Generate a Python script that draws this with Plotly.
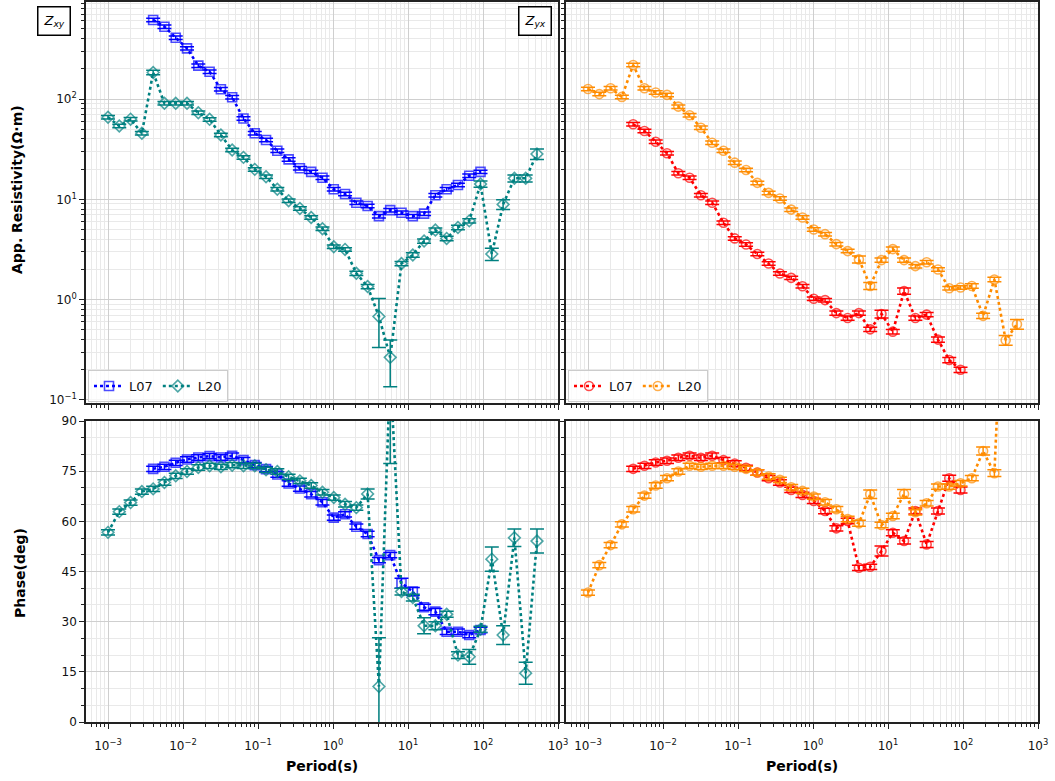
import plotly.graph_objects as go
from plotly.subplots import make_subplots

# ---------------- data ----------------
periods = [0.001, 0.001414, 0.002, 0.002828, 0.004, 0.005657, 0.008, 0.01131, 0.016,
           0.02263, 0.032, 0.04525, 0.064, 0.09051, 0.128, 0.181, 0.256, 0.362, 0.512,
           0.7241, 1.024, 1.448, 2.048, 2.896, 4.096, 5.793, 8.192, 11.59, 16.38, 23.17,
           32.77, 46.34, 65.54, 92.68, 131.1, 185.4, 262.1, 370.7, 524.3]
periods_L07 = periods[4:34]
periods_L20 = periods

# Zxy apparent resistivity (ohm.m)
rho_xy_L07 = [614, 526, 408, 320, 215, 187, 125, 104, 64, 45.5, 39, 30.5, 25, 20.4, 18.8,
              16.4, 12.6, 11.3, 9.25, 8.57, 6.8, 7.8, 7.35, 6.8, 7.2, 11, 12.6, 13.9, 17.2, 18.8]
rho_xy_L07_errpct = [4, 4, 4, 4, 4, 4, 4, 4, 4, 4, 4, 4, 4, 4, 4,
                     4, 4, 4, 4, 4, 4, 4, 4, 4, 4, 4, 4, 4, 4, 4]
rho_xy_L20 = [65.8, 53.8, 63, 45.5, 184, 90.6, 90.6, 90.6, 73, 62.7, 43.7, 31, 26.2, 19.9,
              16.8, 12.6, 9.7, 8.1, 6.6, 5.1, 3.37, 3.17, 1.83, 1.35, 0.68, 0.266, 2.29, 2.79,
              3.84, 4.94, 4.08, 5.25, 6.1, 14.2, 2.85, 8.9, 16.2, 16.2, 28.3]
rho_xy_L20_errpct = [4, 4, 4, 4, 5, 4, 4, 4, 4, 4, 4, 4, 4, 4,
                     4, 4, 4, 4, 4, 4, 4, 4, 5, 5, 51, 49, 5, 5,
                     5, 5, 5, 5, 5, 7, 14, 11, 8, 8, 12]

# Zyx apparent resistivity (ohm.m)
rho_yx_L07 = [56, 48, 37.5, 28.8, 18.2, 16.4, 11.0, 9.25, 5.84, 4.08, 3.55, 2.85, 2.29, 1.82,
              1.65, 1.36, 1.02, 0.99, 0.735, 0.656, 0.735, 0.506, 0.72, 0.48, 1.22, 0.656,
              0.71, 0.40, 0.25, 0.20]
rho_yx_L07_errpct = [4, 4, 4, 4, 4, 4, 4, 4, 4, 4, 4, 4, 4, 4,
                     4, 4, 4, 4, 5, 5, 5, 5, 9, 5, 7, 5,
                     5, 6, 6, 6]
rho_yx_L20 = [126, 112, 128, 105, 218, 128, 116, 110, 84, 69, 51.7, 36.6, 30.5, 23.2, 19.6,
              14.6, 11.6, 10.2, 7.9, 6.6, 5.0, 4.5, 3.58, 3.05, 2.52, 1.37, 2.48, 3.19, 2.48,
              2.16, 2.36, 2.0, 1.30, 1.32, 1.37, 0.69, 1.59, 0.395, 0.57]
rho_yx_L20_errpct = [4, 4, 4, 4, 4, 4, 4, 4, 4, 4, 4, 4, 4, 4, 4,
                     4, 4, 4, 4, 4, 4, 4, 4, 4, 8, 8, 5, 5, 5,
                     4, 4, 4, 4, 4, 5, 6, 5, 11, 11]

# Phases (deg)
phs_xy_L07 = [75.7, 76.3, 77.5, 78.5, 79.1, 79.5, 79.1, 79.6, 78.3, 76.8, 75.6, 74.0, 71.3,
              69.8, 68.1, 65.7, 61.1, 62.1, 58.4, 56.2, 48.4, 49.9, 41.5, 39.0, 34.3, 33.0,
              27.0, 27.0, 26.0, 27.5]
phs_xy_L07_err = [0.8, 0.8, 0.8, 0.8, 0.8, 0.8, 0.8, 0.8, 0.8, 0.8, 0.8, 0.8, 0.8,
                  0.8, 0.8, 0.8, 0.8, 0.8, 0.8, 0.8, 0.8, 0.8, 1.5, 1.2, 0.9, 0.9,
                  0.8, 0.8, 0.8, 0.8]
phs_xy_L20 = [56.7, 62.9, 65.6, 68.9, 69.7, 71.6, 73.6, 74.9, 76.1, 76.6, 76.3, 76.8, 76.6,
              76.6, 75.4, 74.9, 73.3, 72.1, 70.7, 68.7, 67.1, 65.1, 64.1, 68.2, 10.6, 105,
              39.0, 37.2, 28.8, 28.8, 32.2, 20.0, 19.5, 27.7, 48.7, 26.0, 55.1, 14.6, 54.1]
phs_xy_L20_err = [0.8, 0.8, 0.8, 0.8, 0.8, 0.8, 0.8, 0.8, 0.8, 0.8, 0.8, 0.8, 0.8,
                  0.8, 0.8, 0.8, 0.8, 0.8, 0.8, 0.8, 0.8, 0.8, 0.8, 1.5, 14.6, 27.7,
                  1.0, 1.0, 2.4, 1.2, 0.9, 1.0, 2.2, 0.9, 3.6, 2.8, 2.6, 3.3, 3.6]
phs_yx_L07 = [75.7, 76.6, 77.6, 78.1, 79.0, 79.6, 79.0, 79.6, 78.3, 77.3, 76.0, 74.6, 72.9,
              71.6, 69.4, 67.9, 66.1, 63.1, 57.9, 60.1, 46.1, 46.4, 51.1, 56.6, 54.1, 63.1,
              53.1, 63.1, 72.9, 69.4]
phs_yx_L07_err = [0.8, 0.8, 0.8, 0.8, 0.8, 0.8, 0.8, 0.8, 0.8, 0.8, 0.8, 0.8, 0.8,
                  0.8, 0.8, 0.8, 0.8, 0.8, 0.8, 0.8, 0.8, 0.8, 1.5, 0.9, 0.9, 0.9,
                  0.9, 0.9, 0.9, 0.9]
phs_yx_L20 = [38.7, 46.9, 52.9, 59.1, 63.6, 67.7, 70.7, 72.9, 74.9, 76.6, 76.3, 76.6, 76.6,
              76.3, 75.7, 74.6, 73.4, 72.4, 70.2, 69.1, 67.4, 65.7, 63.6, 60.7, 59.4, 68.1,
              58.9, 61.6, 68.2, 62.7, 65.4, 70.4, 70.4, 71.4, 72.9, 81.0, 74.4, 150, 160]
phs_yx_L20_err = [0.8, 0.8, 0.8, 0.8, 0.8, 0.8, 0.8, 0.8, 0.8, 0.8, 0.8, 0.8, 0.8,
                  0.8, 0.8, 0.8, 0.8, 0.8, 0.8, 0.8, 0.8, 0.8, 0.8, 0.8, 0.9, 1.3,
                  0.8, 0.8, 1.3, 0.8, 0.8, 0.8, 0.8, 0.8, 0.8, 1.2, 1.0, 1.0, 1.0]

x_ticks = [1e-3, 1e-2, 1e-1, 1e0, 1e1, 1e2, 1e3]
x_ticktext = ["10<sup>−3</sup>", "10<sup>−2</sup>", "10<sup>−1</sup>", "10<sup>0</sup>",
              "10<sup>1</sup>", "10<sup>2</sup>", "10<sup>3</sup>"]
rho_ticks = [1e-1, 1e0, 1e1, 1e2]
rho_ticktext = ["10<sup>−1</sup>", "10<sup>0</sup>", "10<sup>1</sup>", "10<sup>2</sup>"]
phase_ticks = [0, 15, 30, 45, 60, 75, 90]

# ---------------- styling ----------------
C_BLUE = "#0000ff"
C_TEAL = "#008080"
C_RED = "#ff0000"
C_ORANGE = "#ff8c00"
FONT = "DejaVu Sans"


def rgba(hexc, a):
    h = hexc.lstrip("#")
    return "rgba(%d,%d,%d,%.2f)" % (int(h[0:2], 16), int(h[2:4], 16), int(h[4:6], 16), a)


def minor_log(lo, hi):
    vals = []
    for e in range(lo, hi):
        for m in range(2, 10):
            vals.append(m * 10 ** e)
    return vals


fig = make_subplots(rows=2, cols=2)


def add_series(x, y, err, color, symbol, name, row, col, legend, showlegend):
    fig.add_trace(go.Scatter(
        x=x, y=y, mode="lines+markers", name=name,
        line=dict(color=color, width=2.6, dash="dot"),
        marker=dict(symbol=symbol, size=9, color=rgba(color, 0.7),
                    line=dict(width=1.6)),
        error_y=dict(type="data", array=err, color=color, thickness=1.5, width=7),
        legend=legend, showlegend=showlegend,
    ), row=row, col=col)


def pct_err(vals, pcts):
    return [v * p / 100.0 for v, p in zip(vals, pcts)]


add_series(periods_L07, rho_xy_L07, pct_err(rho_xy_L07, rho_xy_L07_errpct), C_BLUE, "square-open", "L07", 1, 1, "legend", True)
add_series(periods_L20, rho_xy_L20, pct_err(rho_xy_L20, rho_xy_L20_errpct), C_TEAL, "diamond-open", "L20", 1, 1, "legend", True)
add_series(periods_L07, rho_yx_L07, pct_err(rho_yx_L07, rho_yx_L07_errpct), C_RED, "circle-open", "L07", 1, 2, "legend2", True)
add_series(periods_L20, rho_yx_L20, pct_err(rho_yx_L20, rho_yx_L20_errpct), C_ORANGE, "circle-open", "L20", 1, 2, "legend2", True)
add_series(periods_L07, phs_xy_L07, phs_xy_L07_err, C_BLUE, "square-open", "L07", 2, 1, "legend", False)
add_series(periods_L20, phs_xy_L20, phs_xy_L20_err, C_TEAL, "diamond-open", "L20", 2, 1, "legend", False)
add_series(periods_L07, phs_yx_L07, phs_yx_L07_err, C_RED, "circle-open", "L07", 2, 2, "legend2", False)
add_series(periods_L20, phs_yx_L20, phs_yx_L20_err, C_ORANGE, "circle-open", "L20", 2, 2, "legend2", False)

W, H = 1055, 781
ML, MR, MT, MB = 86, 17, 2, 59
PW, PH = W - ML - MR, H - MT - MB


def px_x(p):
    return (p - ML) / PW


def px_y(p):
    return (H - MB - p) / PH


dom_left = [0, px_x(558)]
dom_right = [px_x(566), 1]
dom_top = [px_y(403), 1]
dom_bot = [0, px_y(421)]

GRID_MAJ = "#cfcfcf"
GRID_MIN = "#e9e9e9"
axis_common = dict(showline=True, mirror=True, linecolor="#222222", linewidth=1.5,
                   ticks="outside", ticklen=5, tickwidth=1, tickcolor="#222222",
                   showgrid=True, gridcolor=GRID_MAJ, gridwidth=1, zeroline=False,
                   automargin=False,
                   tickfont=dict(family=FONT, size=12, color="#111111"))

xlog = dict(type="log", range=[-3 - 22 / 75, 3], tickmode="array", tickvals=x_ticks,
            ticktext=x_ticktext,
            minor=dict(tickmode="array", tickvals=minor_log(-4, 3), showgrid=True,
                       gridcolor=GRID_MIN, ticks="outside", ticklen=3, tickcolor="#222222"),
            **axis_common)
ylog = dict(type="log", range=[-1.03, 2.967], tickmode="array", tickvals=rho_ticks,
            ticktext=rho_ticktext,
            minor=dict(tickmode="array", tickvals=minor_log(-2, 3), showgrid=True,
                       gridcolor=GRID_MIN, ticks="outside", ticklen=3, tickcolor="#222222"),
            **axis_common)
ylin = dict(type="linear", range=[0, 90], tickmode="array", tickvals=phase_ticks,
            minor=dict(dtick=5, showgrid=True, gridcolor=GRID_MIN, ticks="outside",
                       ticklen=3, tickcolor="#222222"),
            **axis_common)

fig.update_layout(
    xaxis=dict(domain=dom_left, showticklabels=False, **xlog),
    xaxis2=dict(domain=dom_right, showticklabels=False, **xlog),
    xaxis3=dict(domain=dom_left, ticklabelstandoff=7, **xlog),
    xaxis4=dict(domain=dom_right, ticklabelstandoff=7, **xlog),
    yaxis=dict(domain=dom_top, **ylog),
    yaxis2=dict(domain=dom_top, showticklabels=False, **ylog),
    yaxis3=dict(domain=dom_bot, **ylin),
    yaxis4=dict(domain=dom_bot, showticklabels=False, **ylin),
)

legend_style = dict(orientation="h", xanchor="left", yanchor="bottom",
                    bgcolor="rgba(255,255,255,0.8)", bordercolor="#cccccc", borderwidth=1,
                    font=dict(family=FONT, size=13, color="#111111"),
                    itemwidth=30, tracegroupgap=0)
fig.update_layout(
    width=W, height=H, autosize=False,
    margin=dict(l=ML, r=MR, t=MT, b=MB, pad=0, autoexpand=False),
    paper_bgcolor="white", plot_bgcolor="white",
    font=dict(family=FONT, size=12, color="#111111"),
    legend=dict(x=px_x(88), y=px_y(402), **legend_style),
    legend2=dict(x=px_x(568), y=px_y(402), **legend_style),
)

box = dict(showarrow=False, xref="paper", yref="paper", xanchor="center", yanchor="middle",
           bordercolor="black", borderwidth=1.5, borderpad=5, bgcolor="white",
           font=dict(family=FONT, size=13, color="black"))
fig.add_annotation(x=px_x(54), y=px_y(21), text="<i>Z</i><sub><i>xy</i></sub>", **box)
fig.add_annotation(x=px_x(535), y=px_y(21), text="<i>Z</i><sub><i>yx</i></sub>", **box)

lab = dict(showarrow=False, xref="paper", yref="paper", xanchor="center", yanchor="middle",
           font=dict(family=FONT, size=14, color="black"))
fig.add_annotation(x=px_x(17), y=px_y(190), text="<b>App. Resistivity(Ω·m)</b>", textangle=-90, **lab)
fig.add_annotation(x=px_x(20), y=px_y(573), text="<b>Phase(deg)</b>", textangle=-90, **lab)
fig.add_annotation(x=px_x(322), y=px_y(766), text="<b>Period(s)</b>", **lab)
fig.add_annotation(x=px_x(802), y=px_y(766), text="<b>Period(s)</b>", **lab)

fig.write_html("out.html", config={"displayModeBar": False},
               post_script="document.body.style.margin='0';document.body.style.overflow='hidden';")
